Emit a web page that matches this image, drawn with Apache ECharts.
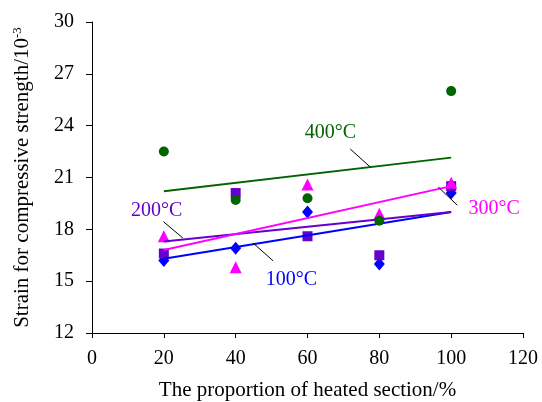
<!DOCTYPE html>
<html><head><meta charset="utf-8">
<script src="https://cdn.jsdelivr.net/npm/echarts@6/dist/echarts.min.js"></script>
<style>html,body{margin:0;padding:0;background:#fff}#c{width:542px;height:402px}</style>
</head><body><div id="c"></div>
<script>
const xValues = [20, 40, 60, 80, 100];
const s100 = [16.2, 16.9, 19.0, 16.0, 20.1];
const s200 = [16.6, 20.1, 17.6, 16.5, 20.5];
const s300 = [17.6, 15.8, 20.6, 18.9, 20.7];
const s400 = [22.5, 19.7, 19.8, 18.5, 26.0];
// trend line end values (at x = 20 and x = 100)
const trendX = [20, 100];
const t100 = [16.3, 19.0];
const t200 = [17.3, 19.0];
const t300 = [16.8, 20.5];
const t400 = [20.2, 22.15];
// label text, anchor and leader line (data coords)
const labels = [
  {text: '400°C', color: '#006400', at: [66.4, 23.6], lead: [[71.9, 22.65], [77.5, 21.6]]},
  {text: '300°C', color: '#FF00FF', at: [112.0, 19.2], lead: [[96.4, 20.45], [101.7, 19.4]]},
  {text: '200°C', color: '#6600CC', at: [18.0, 19.1], lead: [[19.9, 18.44], [25.3, 17.5]]},
  {text: '100°C', color: '#0000FF', at: [55.5, 15.1], lead: [[44.9, 17.2], [50.4, 16.18]]}
];
const FONT = 'Liberation Serif';
const pair = (xs, ys) => xs.map((x, i) => [x, ys[i]]);
const chart = echarts.init(document.getElementById('c'));
const scatter = (data, symbol, size, color, z) => ({type: 'scatter', data, symbol, symbolSize: size, itemStyle: {color, opacity: 1}, z});
const trend = (data, color) => ({type: 'line', data, symbol: 'none', lineStyle: {color, width: 2}, z: 5, silent: true});
chart.setOption({
  animation: false,
  grid: {left: 92, right: 19, top: 22, bottom: 69, containLabel: false, outerBoundsMode: 'none'},
  xAxis: {
    type: 'value', min: 0, max: 120, interval: 20,
    name: 'The proportion of heated section/%', nameLocation: 'middle', nameGap: 47,
    nameTextStyle: {fontFamily: FONT, fontSize: 21, color: '#000'},
    axisLine: {lineStyle: {color: '#000', width: 1}},
    axisTick: {show: true, length: 5, lineStyle: {color: '#000'}},
    axisLabel: {fontFamily: FONT, fontSize: 20, color: '#000', margin: 16},
    splitLine: {show: false}
  },
  yAxis: {
    type: 'value', min: 12, max: 30, interval: 3,
    name: '{a|Strain for compressive strength/10}{s|-3}', nameLocation: 'middle', nameGap: 58,
    nameTextStyle: {fontFamily: FONT, fontSize: 21, color: '#000',
      rich: {a: {fontFamily: FONT, fontSize: 21, color: '#000'}, s: {fontFamily: FONT, fontSize: 13, color: '#000', padding: [0, 0, 10, 0]}}},
    axisLine: {show: true, lineStyle: {color: '#000', width: 1}},
    axisTick: {show: true, length: 6, lineStyle: {color: '#000'}},
    axisLabel: {fontFamily: FONT, fontSize: 20, color: '#000', margin: 18},
    splitLine: {show: false}
  },
  series: [
    scatter(pair(xValues, s100), 'diamond', [11, 13], '#0000FF', 2),
    scatter(pair(xValues, s200), 'rect', 10, '#6600CC', 3),
    scatter(pair(xValues, s300), 'triangle', [12, 12], '#FF00FF', 4),
    scatter(pair(xValues, s400), 'circle', 10, '#006400', 5),
    trend(pair(trendX, t100), '#0000FF'),
    trend(pair(trendX, t200), '#6600CC'),
    trend(pair(trendX, t300), '#FF00FF'),
    trend(pair(trendX, t400), '#006400')
  ]
});
const g = [];
labels.forEach(l => {
  const p = chart.convertToPixel({gridIndex: 0}, l.at);
  g.push({type: 'text', x: p[0], y: p[1], style: {text: l.text, fill: l.color, font: '20px "Liberation Serif"', align: 'center', verticalAlign: 'middle'}, z: 10});
  const a = chart.convertToPixel({gridIndex: 0}, l.lead[0]);
  const b = chart.convertToPixel({gridIndex: 0}, l.lead[1]);
  g.push({type: 'line', shape: {x1: a[0], y1: a[1], x2: b[0], y2: b[1]}, style: {stroke: '#000', lineWidth: 1}, z: 10});
});
chart.setOption({graphic: g});
</script></body></html>
